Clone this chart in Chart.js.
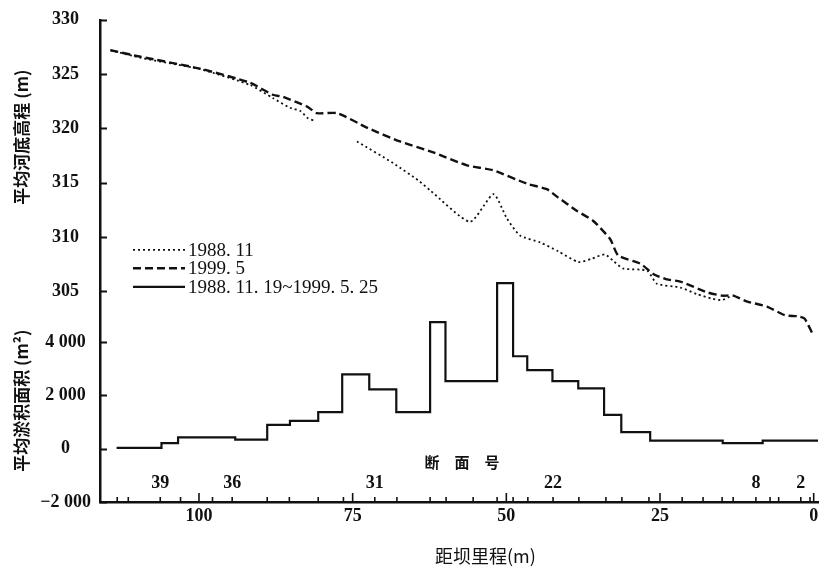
<!DOCTYPE html>
<html>
<head>
<meta charset="utf-8">
<script src="https://cdn.jsdelivr.net/npm/chart.js@4.4.0/dist/chart.umd.min.js"></script>
<style>
  html, body { margin: 0; padding: 0; background: #fff; }
  #wrap { width: 819px; height: 567px; }
</style>
</head>
<body>
<div id="wrap"><canvas id="chart" width="819" height="567"></canvas></div>
<script>
// 平均河底高程 / 平均淤积面积 vs 距坝里程 — two stacked y scales sharing one axis line

const SERIF = "'Liberation Serif', 'DejaVu Serif', serif";
const CJK = "'Noto Sans CJK SC', 'Noto Sans CJK JP', sans-serif";
const INK = "#111";

// axis ranges and ticks
const X_RANGE = [-0.7, 116.1];
const X_TICKS = [0, 25, 50, 75, 100];
const ELEV_RANGE = [285.6, 330];
const ELEV_TICKS = [305, 310, 315, 320, 325, 330];
const AREA_RANGE = [-2000, 16080];
const AREA_TICKS = [-2000, 0, 2000, 4000];

// cross sections (km from dam) and the numbered ones
const SECTION_KM = [113.3, 111.5, 106.3, 103.0, 97.8, 94.6, 88.9, 85.3, 80.6, 76.5, 71.4,
  67.8, 62.4, 59.8, 55.4, 51.5, 48.9, 46.5, 42.4, 38.2, 33.8, 31.2, 26.8, 21.4, 18.0,
  14.9, 13.1, 9.4, 7.1, 5.7, 2.1, 0.6];
const SECTION_LABEL_KM = [106.3, 94.6, 71.4, 42.4, 9.4, 2.1];
const SECTION_LABELS = ["39", "36", "31", "22", "8", "2"];

// 1988.11 bed elevation (null = break in the printed line)
const BED_1988_KM = [114.4, 109.5, 99.8, 91.7, 88.0, 85.2, 83.5, 82.2, 81.1, 78.0,
  74.3, 68.4, 64.3, 62.4, 55.9, 52.1, 49.9, 47.8, 44.5, 41.6, 38.3, 36.1, 34.0, 32.6,
  31.0, 27.1, 25.5, 21.7, 19.0, 16.4, 14.9, 13.3];
const BED_1988 = [327.2, 326.5, 325.45, 324.0, 322.8, 321.9, 321.6, 320.9, 320.7, null,
  318.8, 316.8, 315.2, 314.3, 311.4, 313.95, 311.7, 310.15, 309.5, 308.7, 307.7, 308.0, 308.4, 307.8,
  307.1, 306.9, 305.7, 305.35, 304.75, 304.3, 304.2, 304.6];

// 1999.5 bed elevation
const BED_1999_KM = [114.4, 109.5, 99.8, 91.7, 88.0, 86.3, 82.4, 80.8, 77.5, 72.6,
  67.3, 61.9, 56.4, 52.2, 46.6, 43.4, 41.6, 38.5, 35.9, 33.1, 31.8, 28.2, 26.1, 23.9,
  21.7, 17.3, 14.9, 13.1, 10.8, 7.6, 4.7, 2.6, 1.5, 0.2];
const BED_1999 = [327.2, 326.6, 325.5, 324.2, 323.1, 322.9, 322.0, 321.4, 321.4, 320.05,
  318.8, 317.8, 316.6, 316.15, 314.9, 314.4, 313.65, 312.4, 311.5, 309.8, 308.3, 307.55, 306.6, 306.1,
  305.9, 304.9, 304.6, 304.6, 304.05, 303.6, 302.8, 302.7, 302.5, 301.1];

// mean deposition area 1988.11.19~1999.5.25, value holds until next section
const DEP_KM = [113.4, 106.1, 103.4, 94.1, 88.9, 85.2, 80.6, 76.7, 72.3, 67.9, 62.4,
  59.9, 51.5, 48.9, 46.6, 42.5, 38.3, 34.1, 31.3, 26.6, 14.8, 8.3, -0.7];
const DEP_AREA = [30, 210, 420, 335, 895, 1040, 1370, 2785, 2225, 1370, 4745,
  2535, 6210, 3465, 2945, 2535, 2260, 1265, 620, 300, 210, 300, 300];

function pts(xs, ys) { return xs.map((x, i) => ({ x: x, y: ys[i] })); }

function elevFromArea(a) {
  return ELEV_RANGE[0] + (a - AREA_RANGE[0]) / (AREA_RANGE[1] - AREA_RANGE[0]) * (ELEV_RANGE[1] - ELEV_RANGE[0]);
}

function fmtArea(n) {
  const s = String(Math.abs(n)).replace(/\B(?=(\d{3})+(?!\d))/g, " ");
  return (n < 0 ? "\u2212" : "") + s;
}

const decorPlugin = {
  id: "decor",
  afterDraw(chart) {
    const ctx = chart.ctx;
    const a = chart.chartArea;
    const xs = chart.scales.x;
    const ys = chart.scales.y;
    const ya = chart.scales.y2;
    ctx.save();
    ctx.strokeStyle = INK;
    ctx.fillStyle = INK;
    ctx.setLineDash([]);

    // inward ticks on the left axis
    ctx.lineWidth = 2;
    ys.ticks.forEach((t) => {
      const py = Math.round(ys.getPixelForValue(t.value)) + 0.5;
      ctx.beginPath(); ctx.moveTo(a.left, py); ctx.lineTo(a.left + 7, py); ctx.stroke();
    });

    // inward ticks on the bottom axis
    ctx.lineWidth = 1.6;
    SECTION_KM.forEach((k) => {
      const px = xs.getPixelForValue(k);
      ctx.beginPath(); ctx.moveTo(px, a.bottom); ctx.lineTo(px, a.bottom - 5); ctx.stroke();
    });
    X_TICKS.forEach((k) => {
      const px = xs.getPixelForValue(k);
      ctx.beginPath(); ctx.moveTo(px, a.bottom); ctx.lineTo(px, a.bottom - 9); ctx.stroke();
    });

    // section numbers
    ctx.font = "bold 18px " + SERIF;
    ctx.textAlign = "center";
    ctx.textBaseline = "middle";
    SECTION_LABELS.forEach((s, i) => {
      ctx.fillText(s, xs.getPixelForValue(SECTION_LABEL_KM[i]), a.bottom - 19);
    });
    ctx.font = "bold 15px " + CJK;
    const cx = xs.getPixelForValue(57.2);
    ["断", "面", "号"].forEach((c, i) => ctx.fillText(c, cx + (i - 1) * 30, a.bottom - 40));

    // y titles
    ctx.font = "bold 17px " + CJK;
    [["平均河底高程 (m)", ys.getPixelForValue(319.2)], ["平均淤积面积 (m²)", ya.getPixelForValue(1800)]].forEach(([txt, py]) => {
      ctx.save();
      ctx.translate(22, py);
      ctx.rotate(-Math.PI / 2);
      ctx.fillText(txt, 0, 0);
      ctx.restore();
    });

    // x title
    ctx.font = "18px " + CJK;
    ctx.fillText("距坝里程(m)", xs.getPixelForValue(53.4), 556);

    // legend
    const lx = a.left + 33;
    ctx.font = "19px " + SERIF;
    ctx.textAlign = "left";
    chart.data.datasets.forEach((ds, i) => {
      const py = a.top + 230 + i * 18.5;
      ctx.lineWidth = ds.borderWidth;
      ctx.setLineDash(ds.borderDash || []);
      ctx.beginPath(); ctx.moveTo(lx, py); ctx.lineTo(lx + 52, py); ctx.stroke();
      ctx.setLineDash([]);
      ctx.fillText(ds.label, lx + 55, py + 1);
    });
    ctx.restore();
  }
};

new Chart(document.getElementById("chart"), {
  type: "line",
  data: {
    datasets: [
      {
        label: "1988. 11",
        data: pts(BED_1988_KM, BED_1988),
        yAxisID: "y",
        borderColor: INK,
        borderWidth: 1.8,
        borderDash: [2, 3],
        pointRadius: 0,
        tension: 0.2,
        spanGaps: false,
      },
      {
        label: "1999. 5",
        data: pts(BED_1999_KM, BED_1999),
        yAxisID: "y",
        borderColor: INK,
        borderWidth: 2.4,
        borderDash: [8, 4],
        pointRadius: 0,
        tension: 0.2,
      },
      {
        label: "1988. 11. 19~1999. 5. 25",
        data: pts(DEP_KM, DEP_AREA),
        yAxisID: "y2",
        borderColor: INK,
        borderWidth: 2.2,
        stepped: true,
        pointRadius: 0,
      },
    ],
  },
  options: {
    responsive: false,
    animation: false,
    layout: { padding: { top: 18, right: 1, left: 0, bottom: 0 } },
    plugins: { legend: { display: false }, tooltip: { enabled: false } },
    scales: {
      x: {
        type: "linear",
        reverse: true,
        min: X_RANGE[0],
        max: X_RANGE[1],
        afterBuildTicks: (s) => { s.ticks = X_TICKS.map((v) => ({ value: v })); },
        afterFit: (s) => { s.height = 65; },
        grid: { display: false, drawTicks: false },
        border: { display: true, color: INK, width: 2.5 },
        ticks: { color: INK, padding: 4, maxRotation: 0, autoSkip: false, font: { family: SERIF, size: 18, weight: "bold" } },
      },
      y: {
        type: "linear",
        position: "left",
        min: ELEV_RANGE[0],
        max: ELEV_RANGE[1],
        afterBuildTicks: (s) => {
          s.ticks = ELEV_TICKS.concat(AREA_TICKS.map(elevFromArea)).map((v) => ({ value: v }));
        },
        afterFit: (s) => { s.width = 100; },
        grid: { display: false, drawTicks: false },
        border: { display: true, color: INK, width: 2.5 },
        ticks: {
          color: INK,
          padding: 9,
          crossAlign: "center",
          autoSkip: false,
          font: { family: SERIF, size: 18, weight: "bold" },
          callback: (v, i) => i < ELEV_TICKS.length ? String(ELEV_TICKS[i]) : fmtArea(AREA_TICKS[i - ELEV_TICKS.length]),
        },
      },
      y2: {
        type: "linear",
        display: false,
        min: AREA_RANGE[0],
        max: AREA_RANGE[1],
      },
    },
  },
  plugins: [decorPlugin],
});
</script>
</body>
</html>
